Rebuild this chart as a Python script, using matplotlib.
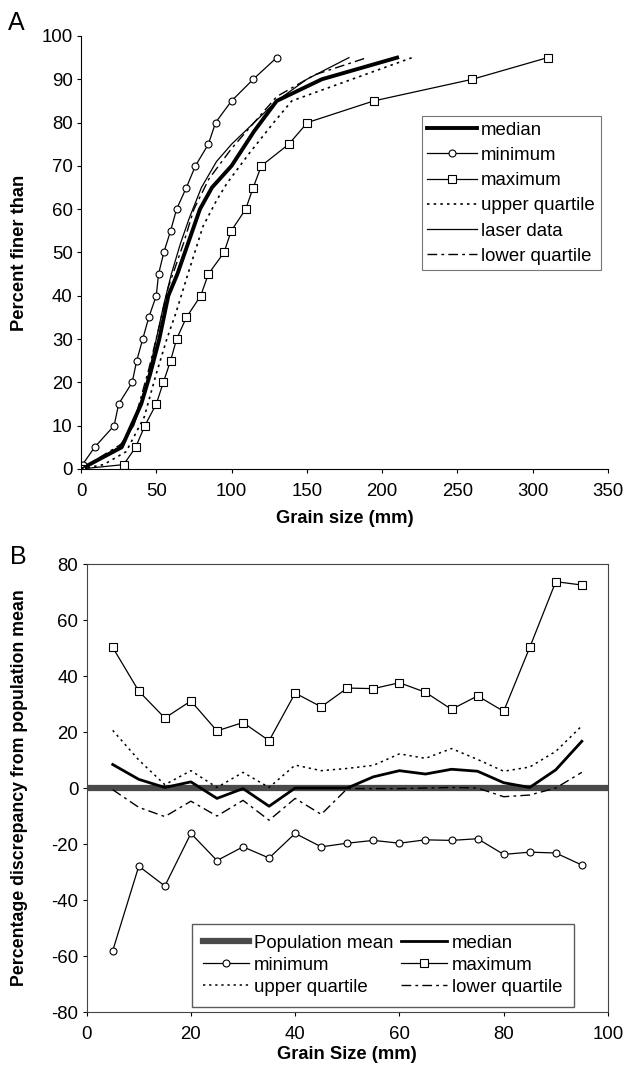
import matplotlib.pyplot as plt
import numpy as np

plt.rcParams['font.family'] = ['Liberation Sans', 'DejaVu Sans']
plt.rcParams['axes.unicode_minus'] = False

# ---- panel A: cumulative grain size curves ----
min_size = [1, 9, 22, 25, 34, 37, 41, 45, 50, 51.5, 55, 59.5, 63.5, 70, 76, 84.6, 89.4, 100, 114.4, 130]
min_pct = [1, 5, 10, 15, 20, 25, 30, 35, 40, 45, 50, 55, 60, 65, 70, 75, 80, 85, 90, 95]

max_size = [0, 28.3, 36.3, 42.4, 50, 54.7, 59.5, 63.5, 70, 79.5, 84.6, 95, 99.8, 109.4, 114.4, 119.8, 138, 150.4, 194.5, 260, 310]
max_pct = [0, 1, 5, 10, 15, 20, 25, 30, 35, 40, 45, 50, 55, 60, 65, 70, 75, 80, 85, 90, 95]

med_size = [0, 27, 40, 46, 52, 58, 64, 69, 79, 87, 100, 115, 130, 160, 210]
med_pct = [0, 5, 15, 22, 30, 40, 45, 50, 60, 65, 70, 78, 85, 90, 95]

uq_size = [0, 15, 30, 42, 50, 57, 63, 71, 81, 90, 97, 112, 128, 140, 180, 220]
uq_pct = [0, 1, 4, 12, 22, 30, 36, 45, 56, 62, 66, 73, 80, 85, 90, 95]

laser_size = [0, 25, 35, 40, 45, 50, 55, 60, 66, 72, 80, 90, 100, 115, 130, 150, 178]
laser_pct = [0, 5, 10, 15, 22, 30, 38, 45, 52, 58, 65, 71, 75, 80, 85, 90, 95]

lq_size = [0, 28, 37, 45, 52, 58, 62, 68, 75, 85, 100, 115, 130, 155, 190]
lq_pct = [0, 6, 13, 23, 33, 42, 46, 52, 60, 67, 74, 80, 86, 91, 95]

# ---- panel B: discrepancy from population mean ----
gs = [5, 10, 15, 20, 25, 30, 35, 40, 45, 50, 55, 60, 65, 70, 75, 80, 85, 90, 95]
d_max = [50.2, 34.6, 25, 31.1, 20.4, 23.4, 16.9, 33.9, 29, 35.7, 35.5, 37.6, 34.2, 28.1, 32.9, 27.4, 50.2, 73.7, 72.5]
d_min = [-58.1, -27.9, -35, -16.2, -25.9, -21, -25, -16.2, -21, -19.7, -18.7, -19.7, -18.5, -18.7, -18.1, -23.7, -22.9, -23.2, -27.5]
d_med = [8.4, 3.1, 0.2, 2.2, -3.7, -0.2, -6.5, 0, 0, 0, 4, 6.2, 5, 6.7, 6, 1.9, 0.2, 6.5, 16.7]
d_uq = [20.6, 10, 1.2, 6.2, 0.2, 5.6, 0.2, 8.2, 6.2, 7, 8.1, 12.2, 10.6, 14.1, 10.2, 6, 7.5, 13.1, 22.2]
d_lq = [-0.6, -6.9, -10.2, -4.7, -10, -4.4, -11.5, -3.7, -9.4, -0.2, -0.2, -0.2, 0, 0.2, 0, -3.1, -2.5, 0, 5.6]

dotted = (0, (1.5, 2.5))
dashdot = (0, (7, 3, 2, 3))
fs = 13.4

fig = plt.figure(figsize=(6.28, 10.67), dpi=100)

axA = fig.add_axes([0.129, 0.5605, 0.839, 0.4058])
axA.plot(med_size, med_pct, color='black', lw=2.8, label='median')
axA.plot(min_size, min_pct, color='black', lw=0.9, marker='o', ms=5, mfc='white', mec='black', mew=0.8, label='minimum')
axA.plot(max_size, max_pct, color='black', lw=0.9, marker='s', ms=5.5, mfc='white', mec='black', mew=0.8, label='maximum')
axA.plot(uq_size, uq_pct, color='black', lw=1.2, ls=dotted, label='upper quartile')
axA.plot(laser_size, laser_pct, color='black', lw=0.9, label='laser data')
axA.plot(lq_size, lq_pct, color='black', lw=1.0, ls=dashdot, label='lower quartile')
axA.set_xlim(0, 350)
axA.set_ylim(0, 100)
axA.set_xticks(np.arange(0, 351, 50))
axA.set_yticks(np.arange(0, 101, 10))
axA.spines['top'].set_visible(False)
axA.spines['right'].set_visible(False)
axA.tick_params(labelsize=fs, direction='out', length=3, width=0.8)
axA.tick_params(axis='x', pad=7)
axA.tick_params(axis='y', pad=3)
axA.set_xlabel('Grain size (mm)', fontsize=13.2, fontweight='bold')
axA.set_ylabel('Percent finer than', fontsize=13.2, fontweight='bold')
axA.xaxis.set_label_coords(0.5, -0.095)
axA.yaxis.set_label_coords(-0.1, 0.5)
legA = axA.legend(loc='upper right', bbox_to_anchor=(0.986, 0.815), fontsize=fs, frameon=True,
                  fancybox=False, edgecolor='#555555', handlelength=2.7, handletextpad=0.2,
                  labelspacing=0.44, borderpad=0.3, borderaxespad=0)
legA.get_frame().set_linewidth(0.8)
fig.text(0.012, 0.99, 'A', fontsize=18, va='top')

axB = fig.add_axes([0.138, 0.0515, 0.830, 0.4199])
axB.axhline(0, color='#4a4a4a', lw=4.5, label='Population mean')
axB.plot(gs, d_min, color='black', lw=0.9, marker='o', ms=5, mfc='white', mec='black', mew=0.8, label='minimum')
axB.plot(gs, d_uq, color='black', lw=1.1, ls=dotted, label='upper quartile')
axB.plot(gs, d_med, color='black', lw=2.0, label='median')
axB.plot(gs, d_max, color='black', lw=0.9, marker='s', ms=5.5, mfc='white', mec='black', mew=0.8, label='maximum')
axB.plot(gs, d_lq, color='black', lw=1.0, ls=dashdot, label='lower quartile')
axB.set_xlim(0, 100)
axB.set_ylim(-80, 80)
axB.set_xticks(np.arange(0, 101, 20))
axB.set_yticks(np.arange(-80, 81, 20))
for s in axB.spines.values():
    s.set_color('#444444')
axB.tick_params(labelsize=fs, direction='out', length=3, width=0.8)
axB.tick_params(axis='x', pad=7)
axB.tick_params(axis='y', pad=3)
axB.set_xlabel('Grain Size (mm)', fontsize=13.2, fontweight='bold')
axB.set_ylabel('Percentage discrepancy from population mean', fontsize=12.8, fontweight='bold')
axB.xaxis.set_label_coords(0.5, -0.075)
axB.yaxis.set_label_coords(-0.113, 0.5)
legB = axB.legend(loc='lower left', bbox_to_anchor=(0.2014, 0.011), ncol=2, fontsize=fs, frameon=True,
                  fancybox=False, edgecolor='#333333', handlelength=2.5, handletextpad=0.25,
                  labelspacing=0.27, borderpad=0.6, columnspacing=0.4, borderaxespad=0)
legB.get_frame().set_linewidth(1.0)
legB._legend_box.align = 'left'
fig.text(0.016, 0.489, 'B', fontsize=18, va='top')

fig.savefig('out.png', dpi=100)
